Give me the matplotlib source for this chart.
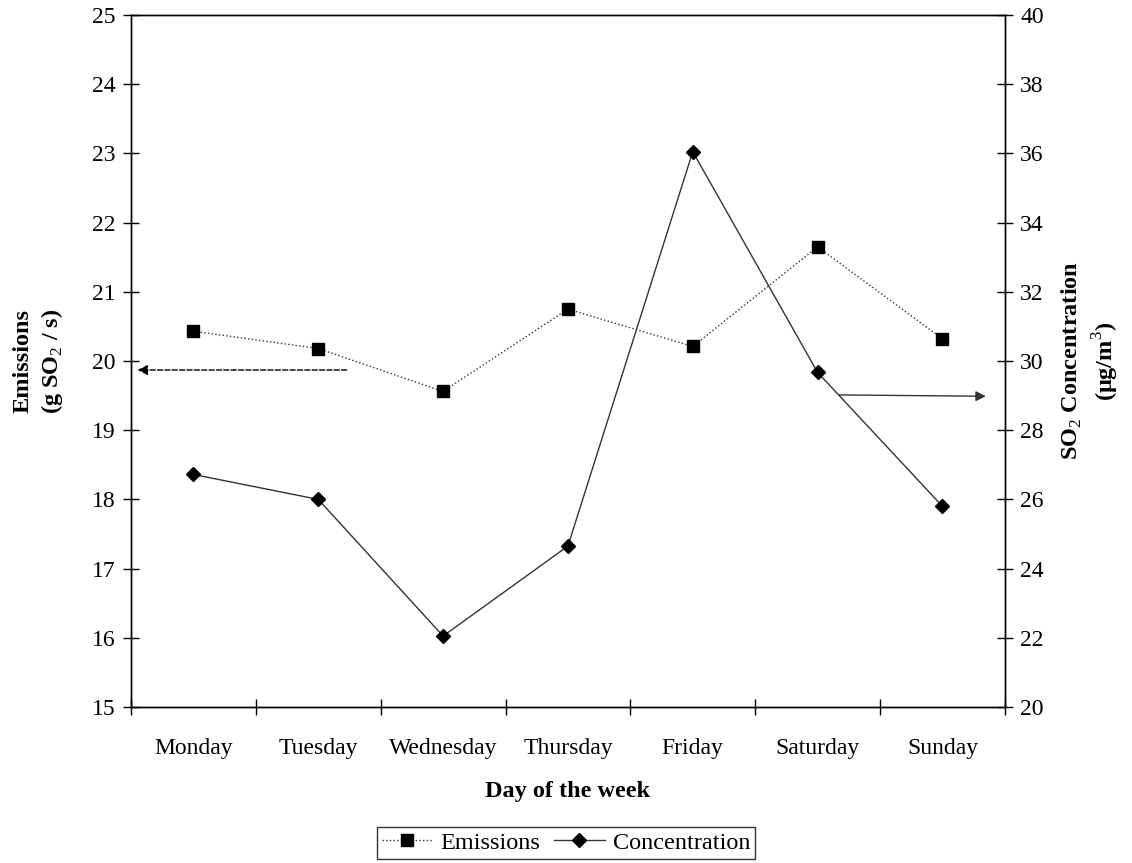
import matplotlib
matplotlib.use("Agg")
import matplotlib.pyplot as plt
import numpy as np

plt.rcParams["font.family"] = ["Liberation Serif", "DejaVu Serif"]
plt.rcParams["mathtext.fontset"] = "custom"
plt.rcParams["mathtext.rm"] = "Liberation Serif"
plt.rcParams["mathtext.bf"] = "Liberation Serif:bold"

# data
days = ["Monday", "Tuesday", "Wednesday", "Thursday", "Friday", "Saturday", "Sunday"]
emissions = [20.43, 20.18, 19.56, 20.75, 20.21, 21.65, 20.32]        # g SO2 / s
concentration = [26.72, 26.0, 22.05, 24.65, 36.05, 29.67, 25.8]     # ug/m3

x = np.arange(len(days))

fig = plt.figure(figsize=(11.32, 8.63), dpi=100)
ax = fig.add_axes([0.1157, 0.1808, 0.772, 0.8018])
ax2 = ax.twinx()

l1, = ax.plot(x, emissions, linestyle=":", color="#333333", linewidth=1.0,
              marker="s", markersize=8.5, markerfacecolor="black",
              markeredgecolor="black", label="Emissions")
l2, = ax2.plot(x, concentration, linestyle="-", color="#333333", linewidth=1.0,
               marker="D", markersize=7.5, markerfacecolor="black",
               markeredgecolor="black", label="Concentration")

ax.set_xlim(-0.5, len(days) - 0.5)
ax.set_ylim(15, 25)
ax2.set_ylim(20, 40)
ax.set_yticks(np.arange(15, 26, 1))
ax2.set_yticks(np.arange(20, 41, 2))

# category boundaries as ticks, labels at centres
ax.set_xticks(np.arange(-0.5, len(days), 1))
ax.set_xticklabels([])
ax.set_xticks(x, minor=True)
ax.set_xticklabels(days, minor=True)
ax.tick_params(axis="x", which="major", direction="inout", length=11, width=1)
ax.tick_params(axis="x", which="minor", length=0, pad=22, labelsize=17)
ax.tick_params(axis="y", direction="inout", length=12, width=1, labelsize=17, pad=5)
ax2.tick_params(axis="y", direction="inout", length=12, width=1, labelsize=17, pad=5)

for a in (ax, ax2):
    for s in a.spines.values():
        s.set_linewidth(1.0)
        s.set_color("black")

ax.set_xlabel("Day of the week", fontsize=17.5, fontweight="bold", labelpad=16)
ax.set_ylabel("Emissions\n(g SO$_2$ / s)", fontsize=17.5,
              fontweight="bold", linespacing=1.25)
ax.yaxis.set_label_coords(-0.076, 0.5)
ax2.set_ylabel("SO$_2$ Concentration\n(\u03bcg/m$^3$)",
               fontsize=17.5, fontweight="bold", linespacing=1.3)
ax2.yaxis.set_label_coords(1.063, 0.5)

# arrows pointing to the relevant axis
ax.annotate("", xy=(-0.47, 19.87), xytext=(1.25, 19.87),
            arrowprops=dict(arrowstyle="-|>", linestyle="--", color="black",
                            linewidth=1.0, mutation_scale=15))
ax2.annotate("", xy=(6.37, 28.98), xytext=(5.15, 29.02),
             arrowprops=dict(arrowstyle="-|>", color="#333333",
                             linewidth=1.0, mutation_scale=15))

leg = fig.legend(handles=[l1, l2], loc="lower center", bbox_to_anchor=(0.5, 0.005),
                 ncol=2, fontsize=17.5, frameon=True, fancybox=False,
                 edgecolor="black", handlelength=2.1, handletextpad=0.33,
                 columnspacing=0.55, borderpad=0.2, borderaxespad=0.0)
leg.get_frame().set_linewidth(1.0)

fig.savefig("out.png", dpi=100)
